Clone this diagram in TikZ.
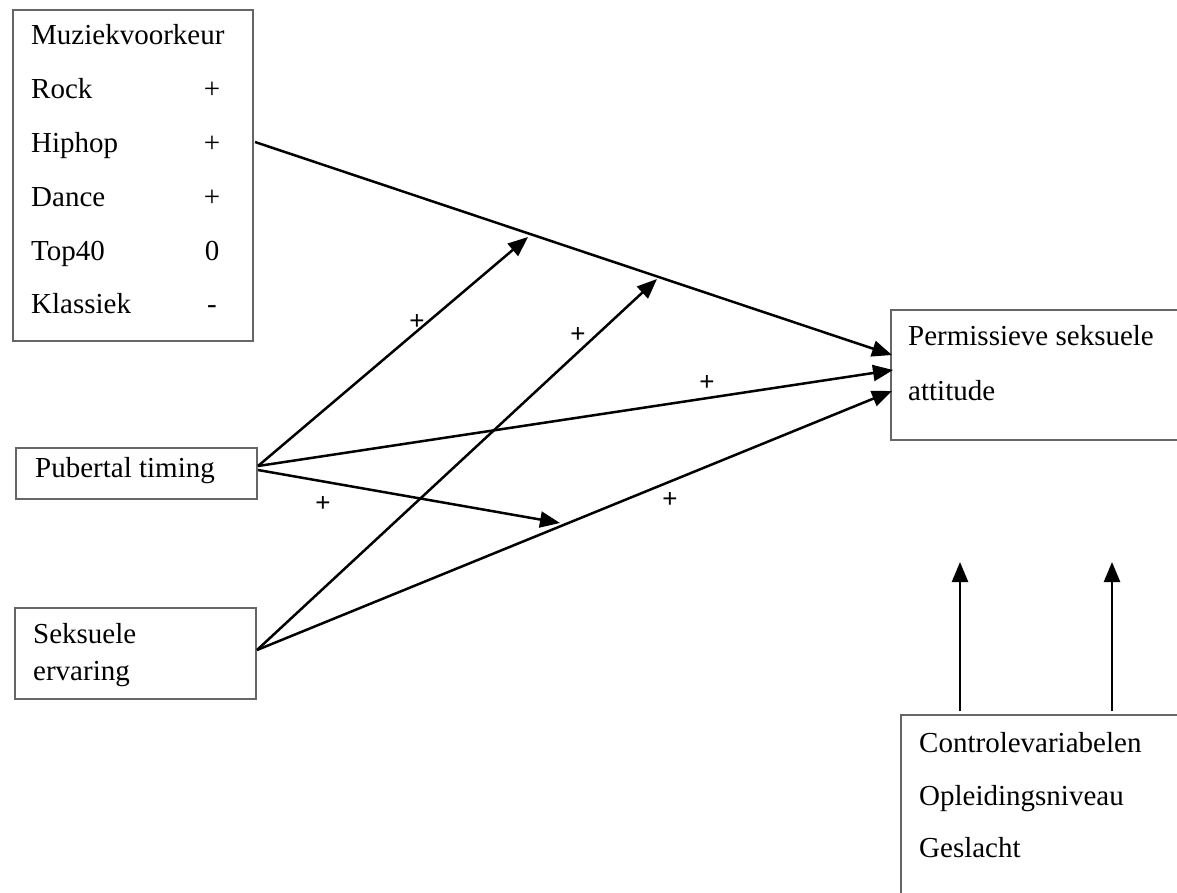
\documentclass[tikz,border=0pt]{standalone}
\usepackage{fontspec}
\setmainfont{Liberation Serif}
\newfontfamily\plusfont{Liberation Sans}
\usetikzlibrary{arrows.meta}
\begin{document}
\begin{tikzpicture}[x=1pt,y=-1pt,
 box/.style={draw=black!60, line width=2pt, fill=white, inner sep=0pt, anchor=north west},
 lbl/.style={anchor=base west, inner sep=0pt, font=\fontsize{29}{34}\selectfont},
 sgn/.style={anchor=base, inner sep=0pt, font=\fontsize{29}{34}\selectfont},
 conn/.style={line width=2.5pt, -{Triangle[length=20pt,width=16pt]}},
 pl/.style={inner sep=0pt, font=\plusfont\fontsize{26}{30}\selectfont}]
\clip (0,0) rectangle (1177,892);
\fill[white] (0,0) rectangle (1177,892);
% boxes
\node[box, minimum width=240pt, minimum height=331pt] (muz) at (12,9) {};
\node[box, minimum width=300pt, minimum height=130pt] (perm) at (890,309) {};
\node[box, minimum width=300pt, minimum height=200pt] (ctrl) at (900,714) {};
\node[box, minimum width=241pt, minimum height=51pt] (pub) at (15,447) {};
\node[box, minimum width=241pt, minimum height=91pt] (sek) at (14,607) {};
% texts
\node[lbl] (t1) at (31,44) {Muziekvoorkeur};
\node[lbl] (t2) at (31,98) {Rock};
\node[lbl] (t3) at (31,152) {Hiphop};
\node[lbl] (t4) at (31,206) {Dance};
\node[lbl] (t5) at (31,260) {Top40};
\node[lbl] (t6) at (31,313) {Klassiek};
\node[sgn] (s2) at (212,98) {+};
\node[sgn] (s3) at (212,152) {+};
\node[sgn] (s4) at (212,206) {+};
\node[sgn] (s5) at (212,260) {0};
\node[sgn] (s6) at (212,313) {-};
\node[lbl] (p1) at (908,345) {Permissieve seksuele};
\node[lbl] (p2) at (908,400) {attitude};
\node[lbl] (c1) at (919,752) {Controlevariabelen};
\node[lbl] (c2) at (919,805) {Opleidingsniveau};
\node[lbl] (c3) at (919,857) {Geslacht};
\node[lbl] (pt) at (35,477) {Pubertal timing};
\node[lbl] (e1) at (33,643) {Seksuele};
\node[lbl] (e2) at (33,680) {ervaring};
% connector anchor points
\coordinate (mo) at (255,142);
\coordinate (po1) at (258,466);
\coordinate (po2) at (258,470);
\coordinate (so) at (257,650);
\coordinate (pi1) at (892,355);
\coordinate (pi2) at (893,370);
\coordinate (pi3) at (892,391);
\coordinate (m1) at (528,237);
\coordinate (m2) at (657,279);
\coordinate (s1) at (560,523);
\coordinate (cu1) at (960,711);
\coordinate (cu2) at (1112,711);
\coordinate (ct1) at (960,562);
\coordinate (ct2) at (1112,562);
% connectors
\draw[conn] (mo) -- (pi1);
\draw[conn] (po1) -- (pi2);
\draw[conn] (so) -- (pi3);
\draw[conn] (po1) -- (m1);
\draw[conn] (so) -- (m2);
\draw[conn] (po2) -- (s1);
\draw[conn] (cu1) -- (ct1);
\draw[conn] (cu2) -- (ct2);
% plus labels
\node[pl] (l1) at (417,322) {+};
\node[pl] (l2) at (578,335) {+};
\node[pl] (l3) at (707,383) {+};
\node[pl] (l4) at (323,504) {+};
\node[pl] (l5) at (670,500) {+};
\end{tikzpicture}
\end{document}
